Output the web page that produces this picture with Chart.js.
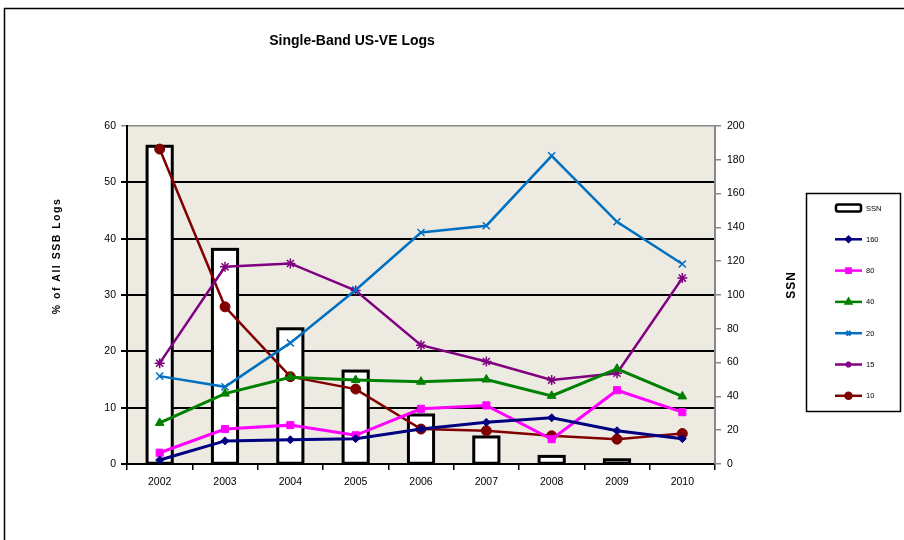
<!DOCTYPE html>
<html>
<head>
<meta charset="utf-8">
<title>Single-Band US-VE Logs</title>
<script src="https://cdn.jsdelivr.net/npm/chart.js@4/dist/chart.umd.min.js"></script>
<style>
    body { margin: 0; background: #fff; }
    #wrap { width: 904px; height: 540px; }
</style>
</head>
<body>
<div id="wrap"><canvas id="logsChart" width="904" height="540"></canvas></div>
<script>
// Years on the x axis
const years = ['2002', '2003', '2004', '2005', '2006', '2007', '2008', '2009', '2010'];

// Sunspot number (right axis)
const ssn = [188, 127, 80, 55, 29, 16, 4.5, 2.5, 0];

// Share of all SSB logs per band, percent (left axis)
const band160 = [0.7, 4.1, 4.3, 4.5, 6.2, 7.4, 8.2, 5.9, 4.5];
const band80 = [2.0, 6.2, 6.9, 5.1, 9.8, 10.4, 4.4, 13.1, 9.2];
const band40 = [7.3, 12.5, 15.4, 14.9, 14.6, 15.0, 12.1, 16.9, 12.0];
const band20 = [15.6, 13.7, 21.5, 30.9, 41.1, 42.3, 54.7, 43.0, 35.5];
const band15 = [17.9, 35.0, 35.6, 30.8, 21.1, 18.2, 14.9, 16.1, 33.0];
const band10 = [55.9, 27.9, 15.5, 13.3, 6.2, 5.9, 5.0, 4.4, 5.4];

const leftTicks = [0, 10, 20, 30, 40, 50, 60];
const rightTicks = [0, 20, 40, 60, 80, 100, 120, 140, 160, 180, 200];

const FONT = '"Liberation Sans", Arial, sans-serif';

function bandLine(label, data, color, style, radius, width) {
    return {
        type: 'line',
        label: label,
        data: data,
        yAxisID: 'y',
        borderColor: color,
        backgroundColor: color,
        borderWidth: width,
        pointStyle: style,
        pointRadius: radius,
        pointBorderWidth: style === 'crossRot' || style === 'star' ? 1.5 : 1,
        pointBorderColor: color,
        pointBackgroundColor: color,
        tension: 0,
        order: 1
    };
}

// Beige plot background, bar outlines, outer frame, titles and the boxed legend
const decorations = {
    id: 'decorations',
    beforeDraw(chart) {
        const ctx = chart.ctx;
        const a = chart.chartArea;
        ctx.save();
        ctx.fillStyle = '#fff';
        ctx.fillRect(0, 0, chart.width, chart.height);
        ctx.fillStyle = '#ECEAE1';
        ctx.fillRect(a.left, a.top, a.right - a.left, a.bottom - a.top);
        ctx.restore();
    },
    // outline the SSN bars with a centred stroke, before the lines go on top
    afterDatasetDraw(chart, args) {
        if (args.index !== 0) return;
        const ctx = chart.ctx;
        ctx.save();
        ctx.strokeStyle = '#000';
        ctx.lineWidth = 3;
        ctx.lineJoin = 'miter';
        args.meta.data.forEach(function(bar, i) {
            if (!ssn[i]) return;
            const p = bar.getProps(['x', 'y', 'base', 'width'], true);
            ctx.strokeRect(p.x - p.width / 2, p.y, p.width, p.base - p.y);
        });
        ctx.restore();
    },
    afterDraw(chart) {
        const ctx = chart.ctx;
        ctx.save();

        // frame around the whole chart
        ctx.strokeStyle = '#000';
        ctx.lineWidth = 1.5;
        ctx.beginPath();
        ctx.moveTo(4.5, 1000);
        ctx.lineTo(4.5, 8.5);
        ctx.lineTo(1000, 8.5);
        ctx.stroke();

        // chart title
        ctx.fillStyle = '#000';
        ctx.font = 'bold 14px ' + FONT;
        ctx.textAlign = 'center';
        ctx.textBaseline = 'middle';
        ctx.fillText('Single-Band US-VE Logs', 352, 41);

        // axis titles
        ctx.font = 'bold 10.5px ' + FONT;
        ctx.save();
        ctx.letterSpacing = '1.5px';
        ctx.translate(57, 256);
        ctx.rotate(-Math.PI / 2);
        ctx.fillText('% of All SSB Logs', 0, 0);
        ctx.restore();
        ctx.save();
        ctx.font = 'bold 12px ' + FONT;
        ctx.letterSpacing = '1px';
        ctx.translate(792, 285);
        ctx.rotate(-Math.PI / 2);
        ctx.fillText('SSN', 0, 0);
        ctx.restore();

        // legend box
        ctx.strokeStyle = '#000';
        ctx.lineWidth = 1.5;
        ctx.strokeRect(806.5, 193.5, 94, 218);

        ctx.font = '7.5px ' + FONT;
        ctx.textAlign = 'left';
        chart.data.datasets.forEach(function(ds, i) {
            const y = 208 + i * 31.3;
            if (ds.type === 'bar') {
                ctx.fillStyle = '#fff';
                ctx.strokeStyle = '#000';
                ctx.lineWidth = 2.5;
                ctx.beginPath();
                ctx.roundRect(836, y - 3.5, 25, 7, 2);
                ctx.fill();
                ctx.stroke();
            } else {
                ctx.strokeStyle = ds.borderColor;
                ctx.lineWidth = 2.5;
                ctx.beginPath();
                ctx.moveTo(835, y);
                ctx.lineTo(862, y);
                ctx.stroke();
                ctx.fillStyle = ds.borderColor;
                Chart.helpers.drawPoint(ctx, {
                    pointStyle: ds.pointStyle,
                    radius: Math.max(ds.pointRadius - 2, 2.5),
                    borderWidth: 1,
                    rotation: 0
                }, 848.5, y);
            }
            ctx.fillStyle = '#000';
            ctx.fillText(ds.label, 866, y + 0.5);
        });

        ctx.restore();
    }
};

const data = {
    labels: years,
    datasets: [
        {
            type: 'bar',
            label: 'SSN',
            data: ssn,
            yAxisID: 'y1',
            backgroundColor: '#fff',
            borderWidth: 0,
            barPercentage: 0.385,
            categoryPercentage: 1,
            order: 10
        },
        bandLine('160', band160, '#000080', 'rectRot', 4, 3),
        bandLine('80', band80, '#FF00FF', 'rect', 5, 3),
        bandLine('40', band40, '#008000', 'triangle', 5, 3),
        bandLine('20', band20, '#0070C0', 'crossRot', 5, 2.5),
        bandLine('15', band15, '#800080', 'star', 5, 2.5),
        bandLine('10', band10, '#800000', 'circle', 5, 2.5)
    ]
};

new Chart(document.getElementById('logsChart'), {
    type: 'bar',
    data: data,
    plugins: [decorations],
    options: {
        responsive: false,
        animation: false,
        events: [],
        layout: {
            padding: { left: 0, right: 129, top: 126, bottom: 46 }
        },
        plugins: {
            legend: { display: false },
            title: { display: false },
            tooltip: { enabled: false }
        },
        scales: {
            x: {
                offset: true,
                grid: {
                    offset: true,
                    drawOnChartArea: false,
                    color: '#000',
                    lineWidth: 1.5,
                    tickLength: 6
                },
                border: { color: '#000', width: 2 },
                ticks: {
                    color: '#000',
                    padding: 6,
                    font: { family: FONT, size: 10.5 }
                },
                afterFit(scale) { scale.height = 30; }
            },
            y: {
                position: 'left',
                min: leftTicks[0],
                max: leftTicks[leftTicks.length - 1],
                afterBuildTicks(scale) {
                    scale.ticks = leftTicks.map(v => ({ value: v }));
                },
                grid: {
                    color: ctx => ctx.tick && ctx.tick.value === 60 ? '#888' : '#000',
                    lineWidth: ctx => ctx.tick && ctx.tick.value === 60 ? 1.5 : 2,
                    tickLength: 6
                },
                border: { color: '#000', width: 2 },
                ticks: {
                    color: '#000',
                    padding: 5,
                    font: { family: FONT, size: 10.5 }
                },
                afterFit(scale) { scale.width = 127; }
            },
            y1: {
                position: 'right',
                min: rightTicks[0],
                max: rightTicks[rightTicks.length - 1],
                afterBuildTicks(scale) {
                    scale.ticks = rightTicks.map(v => ({ value: v }));
                },
                grid: {
                    drawOnChartArea: false,
                    color: '#888',
                    lineWidth: 1.5,
                    tickLength: 6
                },
                border: { color: '#888', width: 2 },
                ticks: {
                    color: '#000',
                    padding: 6,
                    font: { family: FONT, size: 10.5 }
                },
                afterFit(scale) { scale.width = 60; }
            }
        }
    }
});
</script>
</body>
</html>
